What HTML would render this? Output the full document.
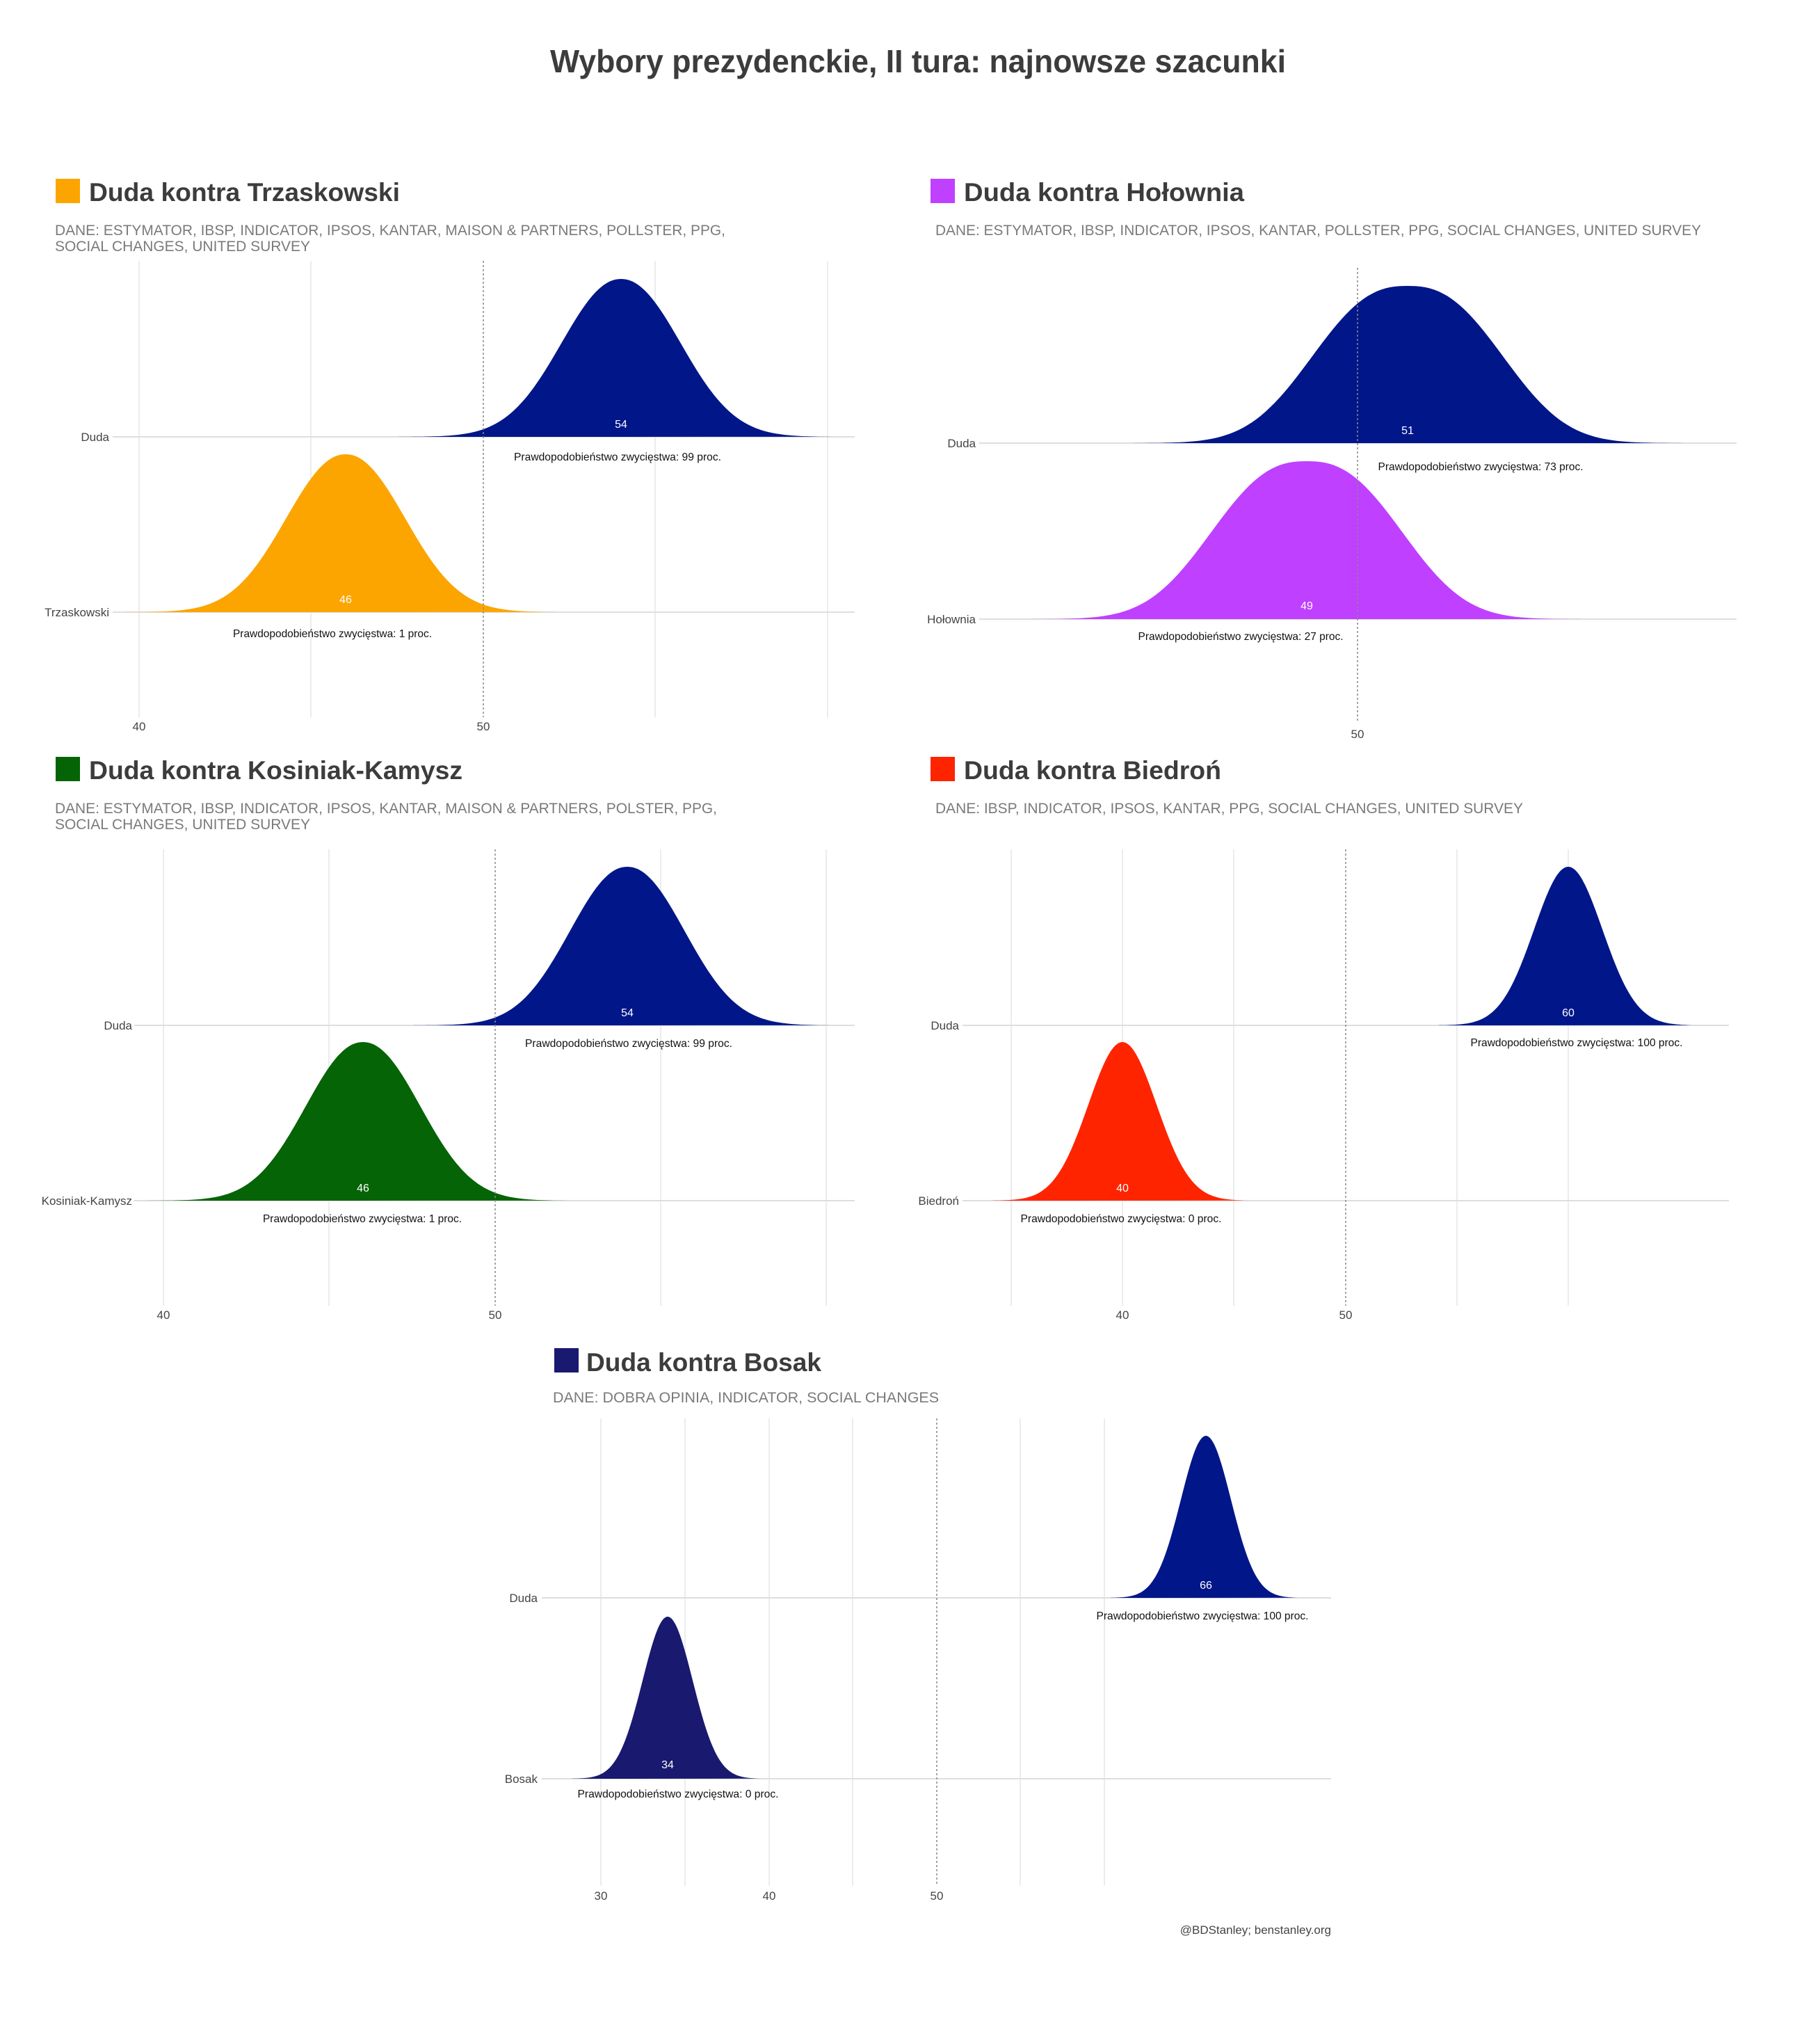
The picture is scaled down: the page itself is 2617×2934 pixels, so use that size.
<!DOCTYPE html>
<html><head><meta charset="utf-8">
<style>
html,body{margin:0;padding:0;background:#fff;}
svg{display:block;}
.t{font-family:"Liberation Sans",sans-serif;font-weight:bold;fill:#3c3c3c;}
.s{font-family:"Liberation Sans",sans-serif;fill:#7a7a7a;font-size:21px;}
.ax{font-family:"Liberation Sans Narrow","Liberation Sans",sans-serif;fill:#444;font-size:17px;}
.pr{font-family:"Liberation Sans Narrow","Liberation Sans",sans-serif;fill:#111;font-size:16px;}
.v{font-family:"Liberation Sans Narrow","Liberation Sans",sans-serif;fill:#fff;font-size:16px;text-anchor:middle;}
.g{stroke:#e6e6e6;stroke-width:1.5;}
.r{stroke:#dedede;stroke-width:2;}
.d{stroke:#888;stroke-width:1.5;stroke-dasharray:3,3;}
</style></head><body>
<svg id="c" width="2617" height="2934" viewBox="0 0 2617 2934" xmlns="http://www.w3.org/2000/svg">
<rect width="2617" height="2934" fill="#fff"/>
<text class="t" x="1320" y="104" font-size="46" text-anchor="middle" textLength="1058" lengthAdjust="spacingAndGlyphs">Wybory prezydenckie, II tura: najnowsze szacunki</text>

<!-- Panel 1 -->
<rect x="80" y="257" width="35" height="35" fill="#FCA500"/>
<text class="t" x="128" y="289" font-size="37" textLength="447" lengthAdjust="spacingAndGlyphs">Duda kontra Trzaskowski</text>
<text class="s" x="79" y="338" textLength="964" lengthAdjust="spacingAndGlyphs">DANE: ESTYMATOR, IBSP, INDICATOR, IPSOS, KANTAR, MAISON &amp; PARTNERS, POLLSTER, PPG,</text>
<text class="s" x="79" y="361" textLength="367" lengthAdjust="spacingAndGlyphs">SOCIAL CHANGES, UNITED SURVEY</text>
<g id="p1"></g>
<line class="g" x1="200" y1="375" x2="200" y2="1031"/><line class="g" x1="447" y1="375" x2="447" y2="1031"/><line class="g" x1="942" y1="375" x2="942" y2="1031"/><line class="g" x1="1190" y1="375" x2="1190" y2="1031"/>
<text class="ax" x="157" y="634" text-anchor="end">Duda</text>
<text class="ax" x="157" y="886" text-anchor="end">Trzaskowski</text>
<text class="ax" x="200" y="1050" text-anchor="middle">40</text>
<text class="ax" x="695" y="1050" text-anchor="middle">50</text>
<text class="v" x="893" y="615">54</text>
<text class="v" x="497" y="867">46</text>
<text class="pr" x="888" y="662" text-anchor="middle" textLength="298" lengthAdjust="spacingAndGlyphs">Prawdopodobieństwo zwycięstwa: 99 proc.</text>
<text class="pr" x="478" y="916" text-anchor="middle" textLength="286" lengthAdjust="spacingAndGlyphs">Prawdopodobieństwo zwycięstwa: 1 proc.</text>

<!-- Panel 2 -->
<rect x="1338" y="257" width="35" height="35" fill="#BF40FF"/>
<text class="t" x="1386" y="289" font-size="37" textLength="403" lengthAdjust="spacingAndGlyphs">Duda kontra Hołownia</text>
<text class="s" x="1345" y="338" textLength="1101" lengthAdjust="spacingAndGlyphs">DANE: ESTYMATOR, IBSP, INDICATOR, IPSOS, KANTAR, POLLSTER, PPG, SOCIAL CHANGES, UNITED SURVEY</text>
<text class="ax" x="1403" y="643" text-anchor="end">Duda</text>
<text class="ax" x="1403" y="896" text-anchor="end">Hołownia</text>
<text class="ax" x="1952" y="1061" text-anchor="middle">50</text>
<text class="pr" x="2129" y="676" text-anchor="middle" textLength="295" lengthAdjust="spacingAndGlyphs">Prawdopodobieństwo zwycięstwa: 73 proc.</text>
<text class="pr" x="1784" y="920" text-anchor="middle" textLength="295" lengthAdjust="spacingAndGlyphs">Prawdopodobieństwo zwycięstwa: 27 proc.</text>

<!-- Panel 3 -->
<rect x="80" y="1088" width="35" height="35" fill="#056405"/>
<text class="t" x="128" y="1120" font-size="37" textLength="537" lengthAdjust="spacingAndGlyphs">Duda kontra Kosiniak-Kamysz</text>
<text class="s" x="79" y="1169" textLength="952" lengthAdjust="spacingAndGlyphs">DANE: ESTYMATOR, IBSP, INDICATOR, IPSOS, KANTAR, MAISON &amp; PARTNERS, POLSTER, PPG,</text>
<text class="s" x="79" y="1192" textLength="367" lengthAdjust="spacingAndGlyphs">SOCIAL CHANGES, UNITED SURVEY</text>
<line class="g" x1="235" y1="1221" x2="235" y2="1877"/><line class="g" x1="473" y1="1221" x2="473" y2="1877"/><line class="g" x1="950" y1="1221" x2="950" y2="1877"/><line class="g" x1="1188" y1="1221" x2="1188" y2="1877"/>
<text class="ax" x="190" y="1480" text-anchor="end">Duda</text>
<text class="ax" x="190" y="1732" text-anchor="end">Kosiniak-Kamysz</text>
<text class="ax" x="235" y="1896" text-anchor="middle">40</text>
<text class="ax" x="712" y="1896" text-anchor="middle">50</text>
<text class="pr" x="904" y="1505" text-anchor="middle" textLength="298" lengthAdjust="spacingAndGlyphs">Prawdopodobieństwo zwycięstwa: 99 proc.</text>
<text class="pr" x="521" y="1757" text-anchor="middle" textLength="286" lengthAdjust="spacingAndGlyphs">Prawdopodobieństwo zwycięstwa: 1 proc.</text>

<!-- Panel 4 -->
<rect x="1338" y="1088" width="35" height="35" fill="#FF2400"/>
<text class="t" x="1386" y="1120" font-size="37" textLength="370" lengthAdjust="spacingAndGlyphs">Duda kontra Biedroń</text>
<text class="s" x="1345" y="1169" textLength="845" lengthAdjust="spacingAndGlyphs">DANE: IBSP, INDICATOR, IPSOS, KANTAR, PPG, SOCIAL CHANGES, UNITED SURVEY</text>
<line class="g" x1="1454" y1="1221" x2="1454" y2="1877"/><line class="g" x1="1614" y1="1221" x2="1614" y2="1877"/><line class="g" x1="1774" y1="1221" x2="1774" y2="1877"/><line class="g" x1="2095" y1="1221" x2="2095" y2="1877"/><line class="g" x1="2255" y1="1221" x2="2255" y2="1877"/>
<text class="ax" x="1379" y="1480" text-anchor="end">Duda</text>
<text class="ax" x="1379" y="1732" text-anchor="end">Biedroń</text>
<text class="ax" x="1614" y="1896" text-anchor="middle">40</text>
<text class="ax" x="1935" y="1896" text-anchor="middle">50</text>
<text class="pr" x="2267" y="1504" text-anchor="middle" textLength="305" lengthAdjust="spacingAndGlyphs">Prawdopodobieństwo zwycięstwa: 100 proc.</text>
<text class="pr" x="1612" y="1757" text-anchor="middle" textLength="289" lengthAdjust="spacingAndGlyphs">Prawdopodobieństwo zwycięstwa: 0 proc.</text>

<!-- Panel 5 -->
<rect x="797" y="1938" width="35" height="35" fill="#191970"/>
<text class="t" x="843" y="1971" font-size="37" textLength="338" lengthAdjust="spacingAndGlyphs">Duda kontra Bosak</text>
<text class="s" x="795" y="2016" textLength="555" lengthAdjust="spacingAndGlyphs">DANE: DOBRA OPINIA, INDICATOR, SOCIAL CHANGES</text>
<line class="g" x1="864" y1="2039" x2="864" y2="2711"/><line class="g" x1="985" y1="2039" x2="985" y2="2711"/><line class="g" x1="1106" y1="2039" x2="1106" y2="2711"/><line class="g" x1="1226" y1="2039" x2="1226" y2="2711"/><line class="g" x1="1467" y1="2039" x2="1467" y2="2711"/><line class="g" x1="1588" y1="2039" x2="1588" y2="2711"/>
<text class="ax" x="773" y="2303" text-anchor="end">Duda</text>
<text class="ax" x="773" y="2563" text-anchor="end">Bosak</text>
<text class="ax" x="864" y="2731" text-anchor="middle">30</text>
<text class="ax" x="1106" y="2731" text-anchor="middle">40</text>
<text class="ax" x="1347" y="2731" text-anchor="middle">50</text>
<text class="pr" x="1729" y="2328" text-anchor="middle" textLength="305" lengthAdjust="spacingAndGlyphs">Prawdopodobieństwo zwycięstwa: 100 proc.</text>
<text class="pr" x="975" y="2584" text-anchor="middle" textLength="289" lengthAdjust="spacingAndGlyphs">Prawdopodobieństwo zwycięstwa: 0 proc.</text>
<text class="ax" x="1914" y="2780" text-anchor="end" font-size="13" fill="#666">@BDStanley; benstanley.org</text>

<g id="curves"></g>
<g id="labels">
<text class="v" x="2024" y="624">51</text>
<text class="v" x="1879" y="876">49</text>
<text class="v" x="902" y="1461">54</text>
<text class="v" x="522" y="1713">46</text>
<text class="v" x="2255" y="1461">60</text>
<text class="v" x="1614" y="1713">40</text>
<text class="v" x="1734" y="2284">66</text>
<text class="v" x="960" y="2542">34</text>
<text class="v" x="893" y="615">54</text>
<text class="v" x="497" y="867">46</text>
</g>
</svg>
<script>
(function(){
var NS="http://www.w3.org/2000/svg";
var svg=document.getElementById("c");
var cur=document.getElementById("curves");
var lab=document.getElementById("labels");
function line(x1,y1,x2,y2,cls,par){var l=document.createElementNS(NS,"line");l.setAttribute("x1",x1);l.setAttribute("y1",y1);l.setAttribute("x2",x2);l.setAttribute("y2",y2);l.setAttribute("class",cls);(par||cur).appendChild(l);}
function ridge(cx,by,sd,h,p,col){
  var d="M"+(cx-3.8*sd)+","+by;
  for(var z=-3.8;z<=3.8001;z+=0.05){
    var y=h*Math.exp(-Math.pow(Math.abs(z),p)/2);
    d+=" L"+(cx+z*sd).toFixed(1)+","+(by-y).toFixed(1);
  }
  d+=" Z";
  var pa=document.createElementNS(NS,"path");pa.setAttribute("d",d);pa.setAttribute("fill",col);cur.appendChild(pa);
}
var NAVY="#011689";
// row lines
line(162,628,1229,628,"r");line(162,880,1229,880,"r");
line(1408,637,2497,637,"r");line(1408,890,2497,890,"r");
line(193,1474,1229,1474,"r");line(193,1726,1229,1726,"r");
line(1384,1474,2486,1474,"r");line(1384,1726,2486,1726,"r");
line(779,2297,1914,2297,"r");line(779,2557,1914,2557,"r");
// curves
ridge(893,628,84,227,2.1,NAVY);
ridge(497,880,84,227,2.1,"#FCA500");
ridge(2024,637,128,226,2.5,NAVY);
ridge(1879,890,128,227,2.5,"#BF40FF");
ridge(902,1474,81,228,2.1,NAVY);
ridge(522,1726,81,228,2.1,"#056405");
ridge(2255,1474,49,228,2,NAVY);
ridge(1614,1726,49,228,2,"#FF2400");
ridge(1734,2297,36,233,2,NAVY);
ridge(960,2557,36,233,2,"#191970");
// dashed 50 lines on top
line(695,375,695,1031,"d");
line(1952,385,1952,1038,"d");
line(712,1221,712,1877,"d");
line(1935,1221,1935,1877,"d");
line(1347,2039,1347,2711,"d");
svg.appendChild(lab);
})();
</script>
</body></html>
